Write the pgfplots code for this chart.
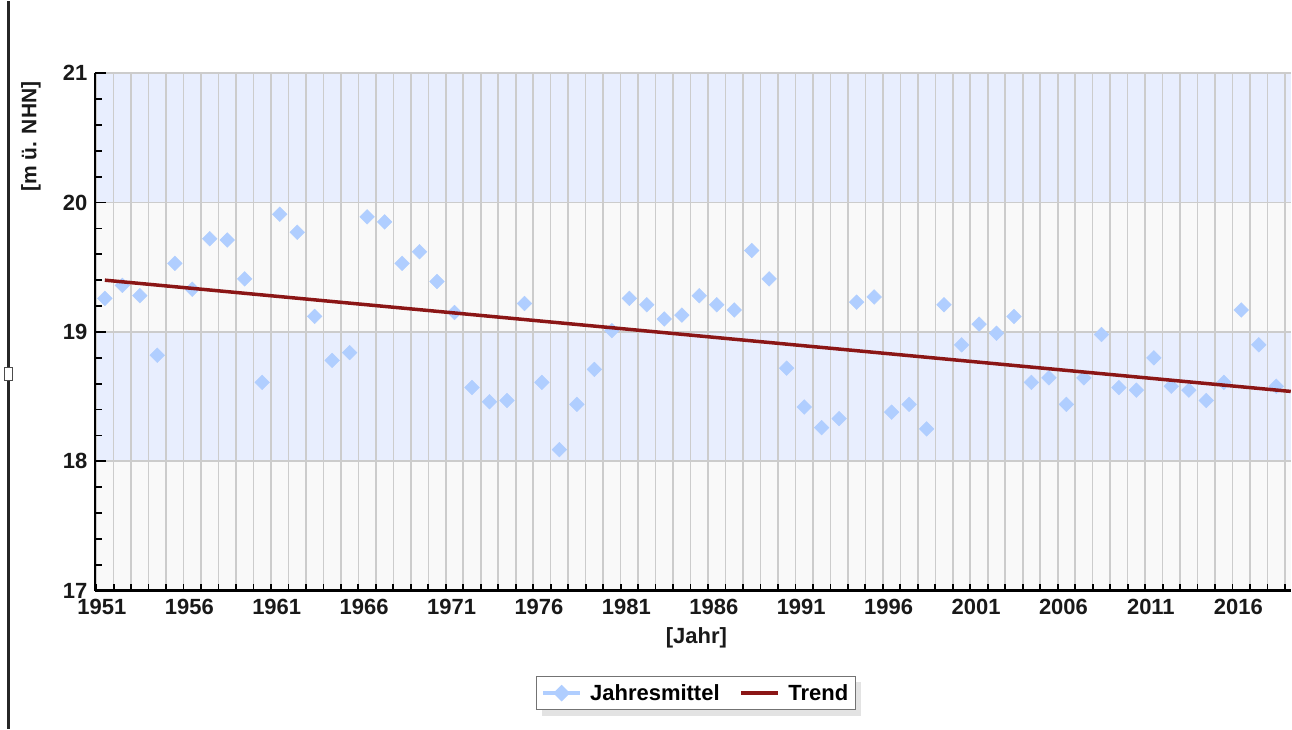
\documentclass[border=0pt]{standalone}
\usepackage{pgfplots}
\pgfplotsset{compat=1.18}
\usepackage{pgfplotstable}
\usepackage{fontspec}
\setmainfont{Liberation Sans}
\usetikzlibrary{shadows}
\makeatletter
\tikzset{nopre/.code={\let\tikz@preactions\pgfutil@empty}}
\makeatother
\definecolor{bandblue}{RGB}{232,238,254}
\definecolor{bandwhite}{RGB}{249,249,249}
\definecolor{gridgray}{RGB}{204,204,204}
\definecolor{jmblue}{RGB}{176,206,255}
\definecolor{trendred}{RGB}{139,22,22}

\pgfplotstableread{
year value
1951 19.26
1952 19.36
1953 19.28
1954 18.82
1955 19.53
1956 19.33
1957 19.72
1958 19.71
1959 19.41
1960 18.61
1961 19.91
1962 19.77
1963 19.12
1964 18.78
1965 18.84
1966 19.89
1967 19.85
1968 19.53
1969 19.62
1970 19.39
1971 19.15
1972 18.57
1973 18.46
1974 18.47
1975 19.22
1976 18.61
1977 18.09
1978 18.44
1979 18.71
1980 19.01
1981 19.26
1982 19.21
1983 19.10
1984 19.13
1985 19.28
1986 19.21
1987 19.17
1988 19.63
1989 19.41
1990 18.72
1991 18.42
1992 18.26
1993 18.33
1994 19.23
1995 19.27
1996 18.38
1997 18.44
1998 18.25
1999 19.21
2000 18.90
2001 19.06
2002 18.99
2003 19.12
2004 18.61
2005 18.645
2006 18.44
2007 18.645
2008 18.98
2009 18.57
2010 18.55
2011 18.80
2012 18.58
2013 18.55
2014 18.47
2015 18.61
2016 19.17
2017 18.90
2018 18.58
2019 18.03
}\jahresmittel

\pgfplotstableread{
year value
1951 19.40
2018.83 18.54
}\trend

\begin{document}
\begin{tikzpicture}
% window splitter at the left edge
\draw[line width=2.5pt, black!85] (8.5pt,0) -- (8.5pt,728pt);
\draw[fill=white, draw=black!70, line width=1pt] (4.5pt,348pt) rectangle (12.5pt,361pt);
\begin{axis}[
  at={(95pt,138pt)}, anchor=south west,
  scale only axis,
  width=1197pt, height=518pt,
  set layers,
  clip bounding box=upper bound,
  xmin=0.43, xmax=68.83,
  ymin=17, ymax=21,
  axis x line*=bottom, axis y line*=left,
  axis line style={line width=2.5pt, black},
  tick align=inside,
  major tick length=11pt, minor tick length=7pt,
  every tick/.style={black, line width=1.8pt},
  xtick={1,6,...,66},
  xticklabels={1951,1956,1961,1966,1971,1976,1981,1986,1991,1996,2001,2006,2011,2016},
  major x tick style={draw=none},
  minor xtick={0.5,1.5,...,68.5},
  ytick={17,18,19,20,21},
  minor ytick={17.2,17.4,...,20.9},
  xmajorgrids=false, xminorgrids=true, ymajorgrids=true,
  major grid style={gridgray, line width=1.6pt},
  minor grid style={gridgray, line width=1.6pt},
  /pgf/number format/assume math mode=true,
  tick label style={font=\fontsize{22}{26}\selectfont\bfseries, black!90},
  xticklabel style={xshift=-3pt, yshift=-5pt},
  yticklabel style={xshift=-4pt},
  xlabel={[Jahr]},
  ylabel={[m ü. NHN]},
  xlabel style={at={(axis description cs:0.503,-0.0907)}, anchor=center, font=\fontsize{22}{26}\selectfont\bfseries, black!90},
  ylabel style={at={(axis description cs:-0.0535,0.877)}, anchor=center, font=\fontsize{21}{25}\selectfont\bfseries, black!90},
  clip marker paths=true,
  legend columns=2,
  legend style={at={(axis description cs:0.5025,-0.198)}, anchor=center,
    draw=black!55, line width=1.2pt, fill=white,
    drop shadow={shadow xshift=6pt, shadow yshift=-6pt, fill=black!22},
    font=\fontsize{22}{26}\selectfont\bfseries,
    inner xsep=5pt, inner ysep=6pt,
    /tikz/every even column/.append style={column sep=18pt}},
]
\begin{pgfonlayer}{axis background}
\fill[bandwhite] (axis cs:0.43,17) rectangle (axis cs:68.83,21);
\fill[bandblue] (axis cs:0.43,18) rectangle (axis cs:68.83,19);
\fill[bandblue] (axis cs:0.43,20) rectangle (axis cs:68.83,21);
\end{pgfonlayer}
\addplot[only marks, mark=square*, mark size=5.2pt,
  mark options={rotate=45, fill=jmblue, draw=jmblue},
  legend image code/.code={
    \path[nopre, draw=none, fill=none] (0pt,0pt) -- (45pt,0pt);
    \draw[nopre, jmblue, line width=3.5pt] (0pt,0pt) -- (37pt,0pt);
    \fill[nopre, jmblue] (18.5pt,7.5pt) -- (26pt,0pt) -- (18.5pt,-7.5pt) -- (11pt,0pt) -- cycle;
  }] table[x expr=\thisrow{year}-1950, y=value] {\jahresmittel};
\addlegendentry{Jahresmittel}
\addplot[trendred, line width=3.5pt, no marks,
  legend image code/.code={
    \path[nopre, draw=none, fill=none] (0pt,0pt) -- (45pt,0pt);
    \draw[nopre, trendred, line width=3.5pt] (0pt,0pt) -- (37pt,0pt);}]
  table[x expr=\thisrow{year}-1950, y=value] {\trend};
\addlegendentry{Trend}
\end{axis}
\path (0,0) rectangle (1292pt,728pt);
\end{tikzpicture}
\end{document}
